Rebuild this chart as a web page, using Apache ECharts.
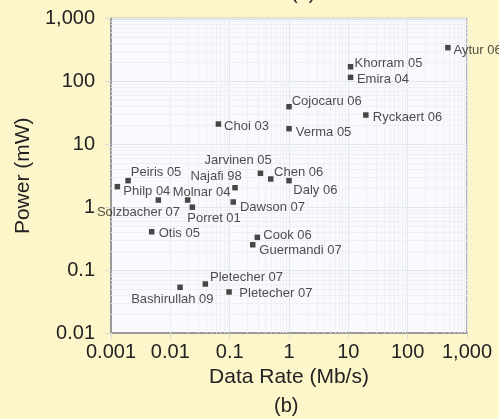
<!DOCTYPE html>
<html>
<head>
<meta charset="utf-8">
<script src="https://cdn.jsdelivr.net/npm/echarts@6/dist/echarts.min.js"></script>
<style>
html,body{margin:0;padding:0;background:#fef6cb;}
#chart{width:499px;height:419px;}
</style>
</head>
<body>
<div id="chart"></div>
<script>
// ---- data ----
var names = ['Aytur 06','Khorram 05','Emira 04','Cojocaru 06','Ryckaert 06','Verma 05','Choi 03',
  'Jarvinen 05','Chen 06','Daly 06','Najafi 98','Molnar 04','Dawson 07','Porret 01','Peiris 05',
  'Philp 04','Solzbacher 07','Otis 05','Cook 06','Guermandi 07','Pletecher 07','Bashirullah 09','Pletecher 07'];
var dataRate = [476, 10.9, 10.9, 1.0, 19.7, 1.0, 0.0646,
  0.33, 0.493, 1.0, 0.123, 0.0196, 0.115, 0.0235, 0.00194,
  0.00128, 0.00628, 0.00485, 0.293, 0.245, 0.0389, 0.0146, 0.0977];
var power = [344, 171, 116, 39.6, 29.2, 17.7, 21,
  3.46, 2.81, 2.64, 2.04, 1.30, 1.21, 1.0, 2.64,
  2.12, 1.30, 0.407, 0.332, 0.253, 0.0601, 0.0533, 0.0449];
var xTickLabels = ['0.001','0.01','0.1','1','10','100','1,000'];
var yTickLabels = ['0.01','0.1','1','10','100','1,000'];

// ---- label placement (style) ----
var labelPlace = [
  ['left',5.6,3],['left',4,-3.4],['left',6.4,1.7],['left',2.7,-5.4],['left',7,2.3],['left',6.7,4],['left',5.7,2.7],
  ['right',11.4,-13.3],['left',3.3,-6.3],['left',4.3,9.3],['right',6.7,-11.7],['left',-15,-7.7],['left',6.7,5.7],['left',-5,11],['left',2.7,-8],
  ['left',6,4.3],['right',21.7,12.7],['left',7,1.6],['left',6,-2.3],['left',6.6,5.3],['left',4.7,-6.7],['center',-7.7,12],['left',10.3,1.3]
];

var FONT = '"Liberation Sans", Arial, Helvetica, sans-serif';

var points = names.map(function(n, i){
  var p = labelPlace[i];
  return {
    name: n,
    value: [dataRate[i], power[i]],
    label: {show: true, position: 'inside', align: p[0], verticalAlign: 'middle', offset: [p[1], p[2]]}
  };
});

// minor log grid lines (decoration)
var minorX = [], minorY = [];
for (var e = -3; e < 3; e++) for (var m = 2; m <= 9; m++) minorX.push({xAxis: m * Math.pow(10, e)});
for (var e2 = -2; e2 < 3; e2++) for (var m2 = 2; m2 <= 9; m2++) minorY.push({yAxis: m2 * Math.pow(10, e2)});

function fmt(labels, minExp){
  return function(v){
    var k = Math.round(Math.log10(v)) - minExp;
    return labels[k] !== undefined ? labels[k] : '';
  };
}

var chart = echarts.init(document.getElementById('chart'), null, {renderer: 'canvas'});
chart.setOption({
  backgroundColor: '#fef6cb',
  animation: false,
  grid: {left: 111, right: 32, top: 18.5, bottom: 86, show: true,
         backgroundColor: '#f9fafd', borderColor: '#9a9a9a', borderWidth: 1.5},
  xAxis: {
    type: 'log', logBase: 10, min: 0.001, max: 1000, splitNumber: 6,
    name: 'Data Rate (Mb/s)', nameLocation: 'middle', nameGap: 32,
    nameTextStyle: {fontFamily: FONT, fontSize: 21, color: '#222'},
    axisLine: {show: true, lineStyle: {color: '#9a9a9a', width: 2}},
    axisTick: {show: true, length: 6, lineStyle: {color: '#d8d8d8'}},
    axisLabel: {formatter: fmt(xTickLabels, -3), fontFamily: FONT, fontSize: 20, color: '#222', margin: 9},
    splitLine: {show: true, lineStyle: {color: '#e2e5ea', width: 1}}
  },
  yAxis: {
    type: 'log', logBase: 10, min: 0.01, max: 1000, splitNumber: 5,
    name: 'Power (mW)', nameLocation: 'middle', nameGap: 76,
    nameTextStyle: {fontFamily: FONT, fontSize: 21, color: '#222'},
    axisLine: {show: true, lineStyle: {color: '#9a9a9a', width: 2}},
    axisTick: {show: true, length: 6, lineStyle: {color: '#d8d8d8'}},
    axisLabel: {formatter: fmt(yTickLabels, -2), fontFamily: FONT, fontSize: 20, color: '#222', margin: 16},
    splitLine: {show: true, lineStyle: {color: '#e2e5ea', width: 1}}
  },
  series: [
    {
      type: 'scatter', data: [], z: 1, silent: true,
      markLine: {silent: true, z: 1, symbol: 'none', label: {show: false},
        emphasis: {disabled: true},
        lineStyle: {color: '#eef0f3', width: 1, type: 'solid'},
        data: minorX.concat(minorY)}
    },
    {
      type: 'scatter', z: 3, symbol: 'rect', symbolSize: 5.5,
      itemStyle: {color: '#1a1a1a'},
      label: {fontFamily: FONT, fontSize: 13, color: '#222', formatter: '{b}'},
      data: points
    }
  ],
  graphic: [
    {type: 'text', left: 291, top: -17, style: {text: '(a)', font: '20px ' + FONT, fill: '#222'}},
    {type: 'text', left: 274, top: 396, style: {text: '(b)', font: '20px ' + FONT, fill: '#222'}}
  ]
});
</script>
</body>
</html>
